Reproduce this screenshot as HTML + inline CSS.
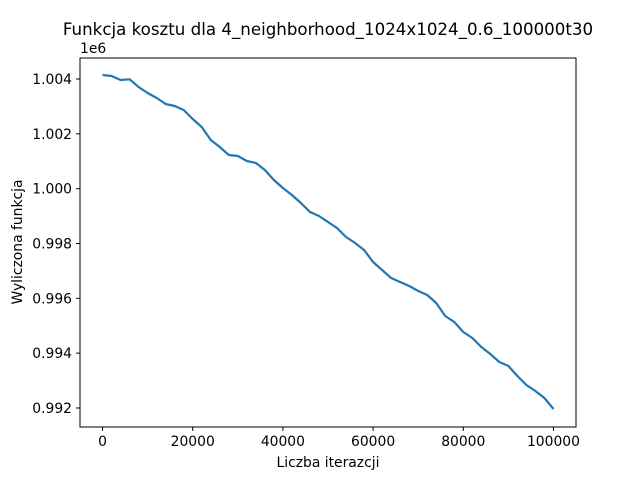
<!DOCTYPE html>
<html><head><meta charset="utf-8"><style>
body{margin:0;background:#fff;}
svg{display:block;font-family:"DejaVu Sans","Liberation Sans",sans-serif;}
</style></head><body>
<svg id="chart" width="640" height="480">
<text x="328" y="35" font-size="16.67" text-anchor="middle">Funkcja kosztu dla 4_neighborhood_1024x1024_0.6_100000t30</text>
<text x="80" y="53" font-size="13.89">1e6</text>
<g id="ticks"></g>
<path id="line" fill="none" stroke="#1f77b4" stroke-width="2.2" stroke-linejoin="round"/>
<rect x="80" y="58" width="496" height="369" fill="none" stroke="#000" stroke-width="1"/>
<text x="328" y="467" font-size="13.89" text-anchor="middle">Liczba iterazcji</text>
<text transform="translate(22,242) rotate(-90)" font-size="13.89" text-anchor="middle">Wyliczona funkcja</text>
</svg>
<script>
const iterations=[0,2000,4000,6000,8000,10000,12000,14000,16000,18000,20000,22000,24000,26000,28000,30000,32000,34000,36000,38000,40000,42000,44000,46000,48000,50000,52000,54000,56000,58000,60000,62000,64000,66000,68000,70000,72000,74000,76000,78000,80000,82000,84000,86000,88000,90000,92000,94000,96000,98000,100000];
const costValues=[1004146,1004109,1003964,1003990,1003708,1003489,1003307,1003088,1003015,1002869,1002541,1002249,1001775,1001519,1001228,1001191,1001009,1000936,1000680,1000316,1000024,999768,999476,999148,999002,998783,998564,998236,998017,997762,997324,997032,996740,996595,996449,996266,996120,995828,995354,995135,994770,994551,994223,993968,993676,993530,993165,992837,992618,992363,991961];
const xTicks=[0,20000,40000,60000,80000,100000];
const yTicks=[992000,994000,996000,998000,1000000,1002000,1004000];
const yTickLabels=["0.992","0.994","0.996","0.998","1.000","1.002","1.004"];
const xs=v=>80+(v+5000)/110000*496;
const ys=v=>79+(1004000-v)/2000*54.83;
const NS="http://www.w3.org/2000/svg";
const g=document.getElementById('ticks');
xTicks.forEach(t=>{
  const x=xs(t);
  const l=document.createElementNS(NS,'line');
  l.setAttribute('x1',x);l.setAttribute('x2',x);l.setAttribute('y1',427);l.setAttribute('y2',431);l.setAttribute('stroke','#000');
  
  
  g.appendChild(l);
  const tx=document.createElementNS(NS,'text');
  tx.setAttribute('x',x);tx.setAttribute('y',446);tx.setAttribute('font-size','13.89');tx.setAttribute('text-anchor','middle');
  tx.textContent=String(t);
  
  
  g.appendChild(tx);
});
yTicks.forEach((t,i)=>{
  const y=ys(t);
  const l=document.createElementNS(NS,'line');
  l.setAttribute('x1',76);l.setAttribute('x2',80);l.setAttribute('y1',y);l.setAttribute('y2',y);l.setAttribute('stroke','#000');
  
  
  g.appendChild(l);
  const tx=document.createElementNS(NS,'text');
  tx.setAttribute('x',72);tx.setAttribute('y',y+5);tx.setAttribute('font-size','13.89');tx.setAttribute('text-anchor','end');
  tx.textContent=yTickLabels[i];
  
  
  g.appendChild(tx);
});
document.getElementById('line').setAttribute('d',iterations.map((it,i)=>(i?'L':'M')+xs(it).toFixed(1)+','+ys(costValues[i]).toFixed(1)).join(''));
</script>
</body></html>
